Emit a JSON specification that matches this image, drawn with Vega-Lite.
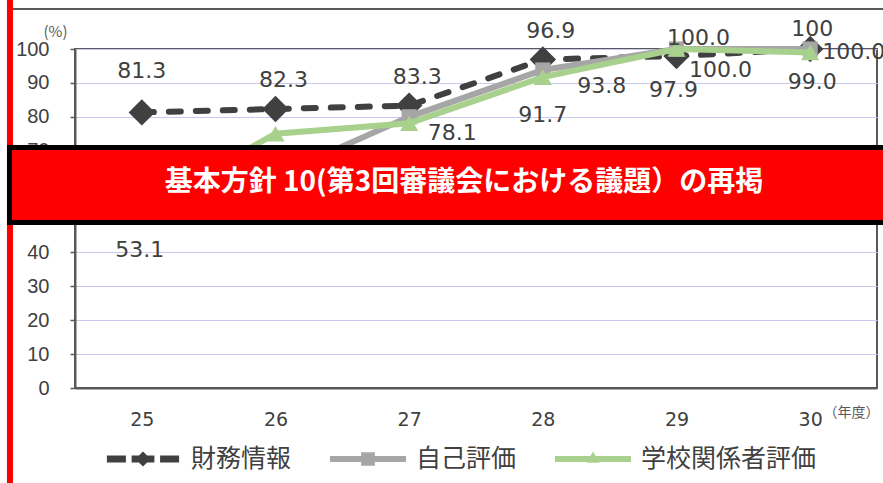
{
  "$schema": "https://vega.github.io/schema/vega-lite/v6.json",
  "width": 802,
  "height": 339,
  "autosize": "none",
  "padding": {"left": 75, "top": 49, "right": 6, "bottom": 95},
  "background": "white",
  "config": {"view": {"stroke": "#595959", "strokeWidth": 2}, "font": "DejaVu Sans"},
  "data": {"values": [
    {"year": 25, "series": "財務情報", "value": 81.3, "label": "81.3"},
    {"year": 26, "series": "財務情報", "value": 82.3, "label": "82.3"},
    {"year": 27, "series": "財務情報", "value": 83.3, "label": "83.3"},
    {"year": 28, "series": "財務情報", "value": 96.9, "label": "96.9"},
    {"year": 29, "series": "財務情報", "value": 97.9, "label": "97.9"},
    {"year": 30, "series": "財務情報", "value": 100.0, "label": "100.0"},
    {"year": 25, "series": "自己評価", "value": 56.3, "label": "56.3"},
    {"year": 26, "series": "自己評価", "value": 62.5, "label": "62.5"},
    {"year": 27, "series": "自己評価", "value": 80.0, "label": "80.0"},
    {"year": 28, "series": "自己評価", "value": 93.8, "label": "93.8"},
    {"year": 29, "series": "自己評価", "value": 100.0, "label": "100.0"},
    {"year": 30, "series": "自己評価", "value": 100, "label": "100"},
    {"year": 25, "series": "学校関係者評価", "value": 53.1, "label": "53.1"},
    {"year": 26, "series": "学校関係者評価", "value": 75.0, "label": "75.0"},
    {"year": 27, "series": "学校関係者評価", "value": 78.1, "label": "78.1"},
    {"year": 28, "series": "学校関係者評価", "value": 91.7, "label": "91.7"},
    {"year": 29, "series": "学校関係者評価", "value": 100.0, "label": "100.0"},
    {"year": 30, "series": "学校関係者評価", "value": 99.0, "label": "99.0"}
  ]},
  "encoding": {
    "x": {"field": "year", "type": "quantitative",
      "scale": {"domain": [24.5, 30.5], "nice": false, "zero": false},
      "axis": {"values": [25, 26, 27, 28, 29, 30], "format": "d", "title": "（年度）",
        "titleX": 776, "titleY": 24, "titleAlign": "center", "titleBaseline": "middle",
        "titleFontSize": 14, "titleFontWeight": "normal", "titleColor": "#595959", "titleFont": "Noto Sans CJK JP",
        "labelFont": "DejaVu Sans", "labelFontSize": 19, "labelColor": "#404040", "labelPadding": 31,
        "labelBaseline": "middle", "ticks": false, "domainColor": "#595959", "domainWidth": 2, "grid": false}},
    "y": {"field": "value", "type": "quantitative",
      "scale": {"domain": [0, 100], "nice": false},
      "axis": {"values": [0, 10, 20, 30, 40, 50, 60, 70, 80, 90, 100], "title": "(%)",
        "titleAngle": 0, "titleX": -20, "titleY": -18, "titleAlign": "center", "titleBaseline": "middle",
        "titleFontSize": 15, "titleFontWeight": "normal", "titleColor": "#595959", "titleFont": "Noto Sans CJK JP",
        "labelFont": "Liberation Sans", "labelFontSize": 20, "labelColor": "#404040", "labelPadding": 21,
        "tickSize": 5, "tickColor": "#595959", "tickWidth": 1.5, "domainColor": "#595959", "domainWidth": 2,
        "grid": true, "gridColor": "#C8C8F0", "gridWidth": 1}}
  },
  "layer": [
    {"transform": [{"filter": "datum.year === 25 && datum.series === '財務情報'"}],
     "mark": {"type": "rect", "fill": "#FF0000"},
     "encoding": {"x": {"datum": 23.991, "type": "quantitative"}, "x2": {"datum": 24.036},
                  "y": {"datum": 115, "type": "quantitative"}, "y2": {"datum": -30}}},
    {"transform": [{"filter": "datum.year === 25 && datum.series === '財務情報'"}],
     "mark": {"type": "rule", "stroke": "#595959", "strokeWidth": 2},
     "encoding": {"x": {"datum": 24.036, "type": "quantitative"}, "x2": {"datum": 30.7},
                  "y": {"datum": 111.8, "type": "quantitative"}}},
    {"transform": [{"filter": "datum.series === '財務情報'"}],
     "mark": {"type": "line", "color": "#404040", "strokeWidth": 6, "strokeDash": [12, 15], "strokeCap": "round"}},
    {"transform": [{"filter": "datum.series === '財務情報'"}],
     "mark": {"type": "point", "shape": "diamond", "filled": true, "color": "#404040", "size": 700, "opacity": 1}},
    {"transform": [{"filter": "datum.series === '自己評価'"}],
     "mark": {"type": "line", "color": "#A6A6A6", "strokeWidth": 6}},
    {"transform": [{"filter": "datum.series === '自己評価'"}],
     "mark": {"type": "point", "shape": "square", "filled": true, "color": "#A6A6A6", "size": 230, "opacity": 1}},
    {"transform": [{"filter": "datum.series === '学校関係者評価'"}],
     "mark": {"type": "line", "color": "#A9D18E", "strokeWidth": 6}},
    {"transform": [{"filter": "datum.series === '学校関係者評価'"}],
     "mark": {"type": "point", "shape": "triangle-up", "filled": true, "color": "#A9D18E", "size": 330, "opacity": 1}},
    {"mark": {"type": "point", "filled": true, "opacity": 0},
     "encoding": {
       "color": {"field": "series", "type": "nominal",
         "scale": {"domain": ["財務情報", "自己評価", "学校関係者評価"], "range": ["#404040", "#A6A6A6", "#A9D18E"]},
         "legend": {"title": null, "orient": "none", "legendX": 30, "legendY": 372, "direction": "horizontal", "columns": 3,
           "padding": 0, "columnPadding": 38, "labelOffset": 10, "labelFontSize": 25, "labelFont": "Noto Sans CJK JP",
           "labelColor": "#404040", "symbolSize": 5776, "symbolOpacity": 1, "symbolStrokeWidth": 0, "labelLimit": 300}},
       "shape": {"field": "series", "type": "nominal",
         "scale": {"domain": ["財務情報", "自己評価", "学校関係者評価"], "range": [
           "M-0.95,-0.09L-0.45,-0.09L-0.45,0.09L-0.95,0.09Z M-0.3,-0.09L0.3,-0.09L0.3,0.09L-0.3,0.09Z M0.45,-0.09L0.95,-0.09L0.95,0.09L0.45,0.09Z M0,-0.2L0.2,0L0,0.2L-0.2,0Z",
           "M-1,-0.08L1,-0.08L1,0.08L-1,0.08Z M-0.18,-0.18L0.18,-0.18L0.18,0.18L-0.18,0.18Z",
           "M-1,-0.08L1,-0.08L1,0.08L-1,0.08Z M0,-0.2L0.17,0.1L-0.17,0.1Z"]},
         "legend": {"title": null, "orient": "none", "legendX": 30, "legendY": 372, "direction": "horizontal", "columns": 3,
           "padding": 0, "columnPadding": 38, "labelOffset": 10, "labelFontSize": 25, "labelFont": "Noto Sans CJK JP",
           "labelColor": "#404040", "symbolSize": 5776, "symbolOpacity": 1, "symbolStrokeWidth": 0, "labelLimit": 300}},
       "size": {"value": 5776}}},
    {"transform": [{"filter": "datum.series === '財務情報' && datum.year === 25"}],
     "mark": {"type": "text", "font": "DejaVu Sans", "fontSize": 22, "color": "#404040", "dy": -41},
     "encoding": {"text": {"field": "label"}}},
    {"transform": [{"filter": "datum.series === '財務情報' && datum.year >= 26 && datum.year <= 28"}],
     "mark": {"type": "text", "font": "DejaVu Sans", "fontSize": 22, "color": "#404040", "dx": 8, "dy": -29},
     "encoding": {"text": {"field": "label"}}},
    {"transform": [{"filter": "datum.series === '財務情報' && datum.year === 29"}],
     "mark": {"type": "text", "font": "DejaVu Sans", "fontSize": 22, "color": "#404040", "dx": -3, "dy": 34},
     "encoding": {"text": {"field": "label"}}},
    {"transform": [{"filter": "datum.series === '財務情報' && datum.year === 30"}],
     "mark": {"type": "text", "font": "DejaVu Sans", "fontSize": 22, "color": "#404040", "align": "left", "dx": 12, "dy": 3},
     "encoding": {"text": {"field": "label"}}},
    {"transform": [{"filter": "datum.series === '自己評価' && datum.year === 28"}],
     "mark": {"type": "text", "font": "DejaVu Sans", "fontSize": 22, "color": "#404040", "dx": 59, "dy": 16},
     "encoding": {"text": {"field": "label"}}},
    {"transform": [{"filter": "datum.series === '自己評価' && datum.year === 29"}],
     "mark": {"type": "text", "font": "DejaVu Sans", "fontSize": 22, "color": "#404040", "dx": 22, "dy": -11},
     "encoding": {"text": {"field": "label"}}},
    {"transform": [{"filter": "datum.series === '自己評価' && datum.year === 30"}],
     "mark": {"type": "text", "font": "DejaVu Sans", "fontSize": 22, "color": "#404040", "dx": 2, "dy": -20},
     "encoding": {"text": {"field": "label"}}},
    {"transform": [{"filter": "datum.series === '学校関係者評価' && datum.year === 25"}],
     "mark": {"type": "text", "font": "DejaVu Sans", "fontSize": 22, "color": "#404040", "dx": -2, "dy": 42},
     "encoding": {"text": {"field": "label"}}},
    {"transform": [{"filter": "datum.series === '学校関係者評価' && datum.year === 28"}],
     "mark": {"type": "text", "font": "DejaVu Sans", "fontSize": 22, "color": "#404040", "dy": 38},
     "encoding": {"text": {"field": "label"}}},
    {"transform": [{"filter": "datum.series === '学校関係者評価' && datum.year === 27"}],
     "mark": {"type": "text", "font": "DejaVu Sans", "fontSize": 22, "color": "#404040", "dx": 43, "dy": 10},
     "encoding": {"text": {"field": "label"}}},
    {"transform": [{"filter": "datum.series === '学校関係者評価' && datum.year === 29"}],
     "mark": {"type": "text", "font": "DejaVu Sans", "fontSize": 22, "color": "#404040", "dx": 44, "dy": 21},
     "encoding": {"text": {"field": "label"}}},
    {"transform": [{"filter": "datum.series === '学校関係者評価' && datum.year === 30"}],
     "mark": {"type": "text", "font": "DejaVu Sans", "fontSize": 22, "color": "#404040", "dx": 2, "dy": 30},
     "encoding": {"text": {"field": "label"}}},
    {"transform": [{"filter": "datum.year === 25 && datum.series === '財務情報'"}],
     "mark": {"type": "rect", "fill": "#FF0000", "stroke": "#000000", "strokeWidth": 5},
     "encoding": {"x": {"datum": 24.010, "type": "quantitative"}, "x2": {"datum": 30.7},
                  "y": {"datum": 70.94, "type": "quantitative"}, "y2": {"datum": 48.82}}},
    {"transform": [{"filter": "datum.year === 25 && datum.series === '財務情報'"}],
     "mark": {"type": "text", "font": "Noto Sans CJK JP", "fontSize": 28, "fontWeight": "bold", "color": "#FFFFFF", "align": "center", "baseline": "middle"},
     "encoding": {"x": {"datum": 27.41, "type": "quantitative"},
                  "y": {"datum": 60.47, "type": "quantitative"},
                  "text": {"value": "基本方針 10(第3回審議会における議題）の再掲"}}}
  ]
}
